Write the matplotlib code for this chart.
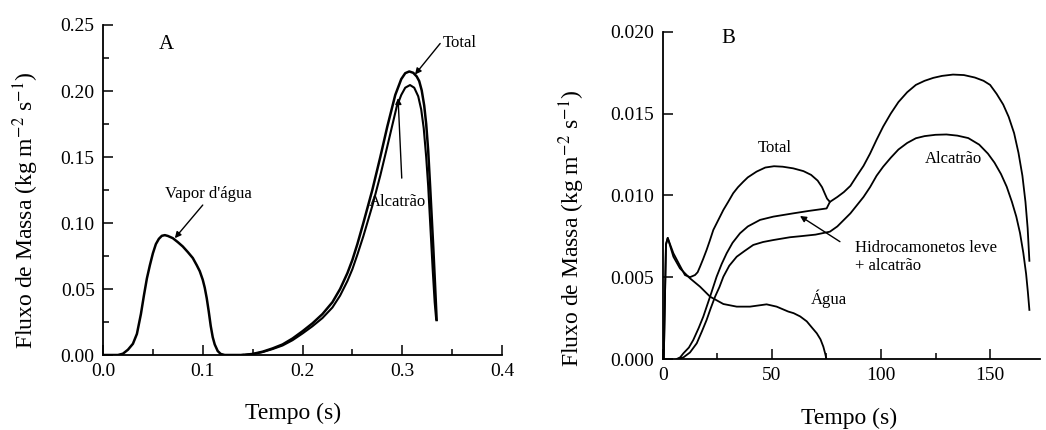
import matplotlib
matplotlib.use("Agg")
import matplotlib.pyplot as plt
from matplotlib.ticker import MultipleLocator, FormatStrFormatter

plt.rcParams['font.family'] = ['Liberation Serif', 'DejaVu Serif']
plt.rcParams['mathtext.fontset'] = 'stix'

# ---- painel A (tempo em s, fluxo em kg m-2 s-1)
vapor_t = [0.0, 0.015, 0.020, 0.025, 0.030, 0.034, 0.038, 0.041, 0.044, 0.047,
           0.050, 0.053, 0.056, 0.059, 0.062, 0.065, 0.070, 0.075, 0.080, 0.085,
           0.090, 0.094, 0.097, 0.100, 0.102, 0.104, 0.106, 0.108, 0.110, 0.112,
           0.115, 0.118, 0.122, 0.140]
vapor_f = [0.0, 0.0, 0.001, 0.004, 0.0085, 0.016, 0.031, 0.045, 0.058, 0.068,
           0.077, 0.084, 0.088, 0.0903, 0.0908, 0.0902, 0.0885, 0.0855, 0.0822, 0.078,
           0.0735, 0.068, 0.0635, 0.057, 0.051, 0.043, 0.033, 0.022, 0.0135, 0.008,
           0.003, 0.0008, 0.0, 0.0]

total_a_t = [0.14, 0.15, 0.16, 0.17, 0.18, 0.19, 0.20, 0.21, 0.22, 0.23,
             0.2377, 0.245, 0.25, 0.255, 0.261, 0.27, 0.278, 0.285, 0.293, 0.299,
             0.303, 0.307, 0.311, 0.3145, 0.317, 0.3195, 0.322, 0.324, 0.326, 0.328,
             0.3295, 0.3312, 0.3328, 0.3345]
total_a_f = [0.0, 0.0008, 0.0025, 0.005, 0.008, 0.0125, 0.018, 0.024, 0.031, 0.040,
             0.050, 0.062, 0.072, 0.084, 0.100, 0.125, 0.150, 0.173, 0.197, 0.209,
             0.2135, 0.2148, 0.2138, 0.211, 0.2075, 0.2005, 0.189, 0.175, 0.155, 0.127,
             0.105, 0.080, 0.0545, 0.0265]

alc_a_t = [0.14, 0.15, 0.16, 0.17, 0.18, 0.19, 0.20, 0.21, 0.22, 0.23,
           0.2377, 0.245, 0.25, 0.255, 0.261, 0.27, 0.278, 0.285, 0.2944, 0.299,
           0.303, 0.3078, 0.312, 0.316, 0.319, 0.3215, 0.324, 0.326, 0.328, 0.3305,
           0.3325, 0.334]
alc_a_f = [0.0, 0.0007, 0.0022, 0.0045, 0.0072, 0.0112, 0.0163, 0.0218, 0.028, 0.036,
           0.045, 0.056, 0.065, 0.076, 0.090, 0.113, 0.136, 0.158, 0.188, 0.197,
           0.2025, 0.2045, 0.2025, 0.196, 0.186, 0.172, 0.150, 0.128, 0.100, 0.065,
           0.040, 0.027]

# ---- painel B
agua_t = [0.0, 0.5, 1.5, 2.3, 4.9, 7.9, 12.5, 17.1, 21.7, 27.8,
          33.9, 40.0, 47.6, 52.2, 57.5, 60.0, 63.0, 66.0, 68.5, 70.6,
          72.3, 73.6, 74.5, 75.0]
agua_f = [0.0, 0.0, 0.0070, 0.0074, 0.00625, 0.00554, 0.00493, 0.00442, 0.00381, 0.00336,
          0.0032, 0.0032, 0.00334, 0.0032, 0.0029, 0.0028, 0.0026, 0.0023, 0.0019, 0.00157,
          0.0012, 0.00075, 0.0003, 0.0]

total_b_t = [0.0, 0.5, 1.5, 2.3, 4.9, 7.9, 10.2, 12.5, 14.8, 16.0,
             17.1, 18.5, 20.1, 21.5, 23.2, 25.5, 27.8, 30.0, 32.3, 34.5,
             36.9, 39.0, 43.0, 47.0, 51.0, 55.0, 59.8, 64.5, 68.0, 71.0,
             73.0, 74.3, 75.3, 76.6, 80.0, 83.0, 86.0, 89.0, 92.0, 95.0,
             98.0, 101.0, 104.5, 108.0, 112.0, 116.0, 120.0, 124.0, 128.0, 133.0,
             138.0, 143.0, 147.0, 150.0, 153.0, 156.0, 158.5, 161.0, 163.0, 164.8,
             166.2, 167.2, 168.0]
total_b_f = [0.0, 0.0, 0.0070, 0.0074, 0.00646, 0.0057, 0.00513, 0.0050, 0.00513, 0.0053,
             0.00564, 0.0061, 0.00666, 0.0072, 0.00789, 0.0085, 0.00911, 0.0096, 0.01013, 0.0105,
             0.01083, 0.0111, 0.01145, 0.0117, 0.01178, 0.01175, 0.01165, 0.01148, 0.01125, 0.0109,
             0.0105, 0.0101, 0.0098, 0.0096, 0.0099, 0.0102, 0.01058, 0.0112, 0.0118, 0.01255,
             0.0134, 0.0142, 0.0150, 0.0157, 0.0163, 0.01675, 0.0170, 0.01718, 0.0173, 0.01738,
             0.01735, 0.0172, 0.0170, 0.01675, 0.0162, 0.01555, 0.0148, 0.0138, 0.0126, 0.0112,
             0.0096, 0.0080, 0.0060]

hc_t = [6.4, 8.0, 9.5, 12.0, 14.0, 16.5, 18.6, 21.7, 24.7, 27.0,
        29.3, 32.0, 35.4, 39.0, 44.6, 50.7, 59.8, 67.0, 75.1, 76.6]
hc_f = [0.0, 0.0001, 0.00035, 0.0007, 0.00116, 0.0019, 0.00259, 0.00381, 0.00503, 0.0058,
        0.00646, 0.0071, 0.00768, 0.0081, 0.0085, 0.0087, 0.0089, 0.00905, 0.0092, 0.0096]

alc_b_t = [7.0, 9.5, 12.5, 15.6, 18.0, 20.1, 22.0, 24.0, 26.0, 27.8,
           30.5, 33.9, 37.5, 41.5, 46.0, 50.7, 58.3, 62.9, 70.0, 76.6,
           80.0, 83.0, 86.0, 89.0, 92.0, 95.0, 98.0, 101.0, 104.5, 108.0,
           112.0, 116.0, 120.0, 125.0, 130.0, 135.0, 140.0, 145.0, 149.0, 152.0,
           155.0, 157.6, 160.0, 162.0, 163.7, 165.2, 166.5, 167.3, 168.0]
alc_b_f = [0.0, 0.0001, 0.0004, 0.00096, 0.0017, 0.00238, 0.0031, 0.00381, 0.0044, 0.00503,
           0.0057, 0.00625, 0.0066, 0.00697, 0.00715, 0.00727, 0.00744, 0.0075, 0.0076, 0.00778,
           0.0081, 0.0085, 0.0089, 0.0094, 0.0099, 0.0105, 0.0112, 0.01175, 0.0123, 0.0128,
           0.0132, 0.01349, 0.01362, 0.0137, 0.01372, 0.01365, 0.0135, 0.0131, 0.01255, 0.0120,
           0.0113, 0.01053, 0.0096, 0.0087, 0.0077, 0.0065, 0.0052, 0.0041, 0.0030]

W, H = 1046, 430
fig = plt.figure(figsize=(W / 100, H / 100), dpi=100)

def px_box(x0, x1, y_top, y_bot):
    return [x0 / W, 1 - y_bot / H, (x1 - x0) / W, (y_bot - y_top) / H]

ax1 = fig.add_axes(px_box(103, 502, 25, 355))
ax2 = fig.add_axes(px_box(662.7, 1040.3, 31.7, 359))

for ax in (ax1, ax2):
    ax.spines['top'].set_visible(False)
    ax.spines['right'].set_visible(False)
    for s in ('left', 'bottom'):
        ax.spines[s].set_linewidth(1.3)
    ax.tick_params(which='major', direction='in', length=7, width=1.1, labelsize=14, pad=6)
    ax.tick_params(which='minor', direction='in', length=4, width=1.1)

# A
ax1.plot(vapor_t, vapor_f, color='black', lw=1.8)
ax1.plot(total_a_t, total_a_f, color='black', lw=1.8)
ax1.plot(alc_a_t, alc_a_f, color='black', lw=1.5)
ax1.set_xlim(0, 0.4)
ax1.set_ylim(0, 0.25)
ax1.xaxis.set_major_locator(MultipleLocator(0.1))
ax1.xaxis.set_minor_locator(MultipleLocator(0.05))
ax1.yaxis.set_major_locator(MultipleLocator(0.05))
ax1.yaxis.set_minor_locator(MultipleLocator(0.025))
ax1.xaxis.set_major_formatter(FormatStrFormatter('%.1f'))
ax1.yaxis.set_major_formatter(FormatStrFormatter('%.2f'))
ax1.set_xlabel('Tempo (s)', fontsize=17)
ax1.set_ylabel('Fluxo de Massa (kg m$^{-2}$ s$^{-1}$)', fontsize=17)
ax1.xaxis.set_label_coords(0.476, -0.145)
ax1.yaxis.set_label_coords(-0.155, 0.44)

arr = dict(arrowstyle='-|>', color='black', lw=1.0, mutation_scale=9, shrinkA=0, shrinkB=0)
ax1.text(0.064, 0.235, 'A', fontsize=15, ha='center', va='center')
ax1.annotate('', xy=(0.3128, 0.2125), xytext=(0.338, 0.236), arrowprops=arr)
ax1.text(0.341, 0.236, 'Total', fontsize=12, ha='left', va='center')
ax1.annotate('', xy=(0.2958, 0.1947), xytext=(0.2995, 0.134), arrowprops=arr)
ax1.text(0.295, 0.116, 'Alcatrão', fontsize=12, ha='center', va='center')
ax1.annotate('', xy=(0.072, 0.0885), xytext=(0.1, 0.1136), arrowprops=arr)
ax1.text(0.106, 0.122, "Vapor d'água", fontsize=12, ha='center', va='center')

# B
ax2.plot(agua_t, agua_f, color='black', lw=1.3)
ax2.plot(total_b_t, total_b_f, color='black', lw=1.3)
ax2.plot(hc_t, hc_f, color='black', lw=1.3)
ax2.plot(alc_b_t, alc_b_f, color='black', lw=1.3)
ax2.set_xlim(0, 173)
ax2.set_ylim(0, 0.020)
ax2.xaxis.set_major_locator(MultipleLocator(50))
ax2.xaxis.set_minor_locator(MultipleLocator(25))
ax2.yaxis.set_major_locator(MultipleLocator(0.005))
ax2.yaxis.set_major_formatter(FormatStrFormatter('%.3f'))
ax2.set_xlabel('Tempo (s)', fontsize=17)
ax2.set_ylabel('Fluxo de Massa (kg m$^{-2}$ s$^{-1}$)', fontsize=17)
ax2.xaxis.set_label_coords(0.493, -0.148)
ax2.yaxis.set_label_coords(-0.2, 0.40)

ax2.text(30, 0.0196, 'B', fontsize=15, ha='center', va='center')
ax2.text(51.5, 0.0129, 'Total', fontsize=12, ha='center', va='center')
ax2.text(133, 0.0122, 'Alcatrão', fontsize=12, ha='center', va='center')
ax2.text(88, 0.0068, 'Hidrocamonetos leve', fontsize=12, ha='left', va='center')
ax2.text(88, 0.0057, '+ alcatrão', fontsize=12, ha='left', va='center')
ax2.text(76, 0.0037, 'Água', fontsize=12, ha='center', va='center')
ax2.annotate('', xy=(62.9, 0.00874), xytext=(81.2, 0.00717), arrowprops=arr)

fig.savefig('out.png', dpi=100)
